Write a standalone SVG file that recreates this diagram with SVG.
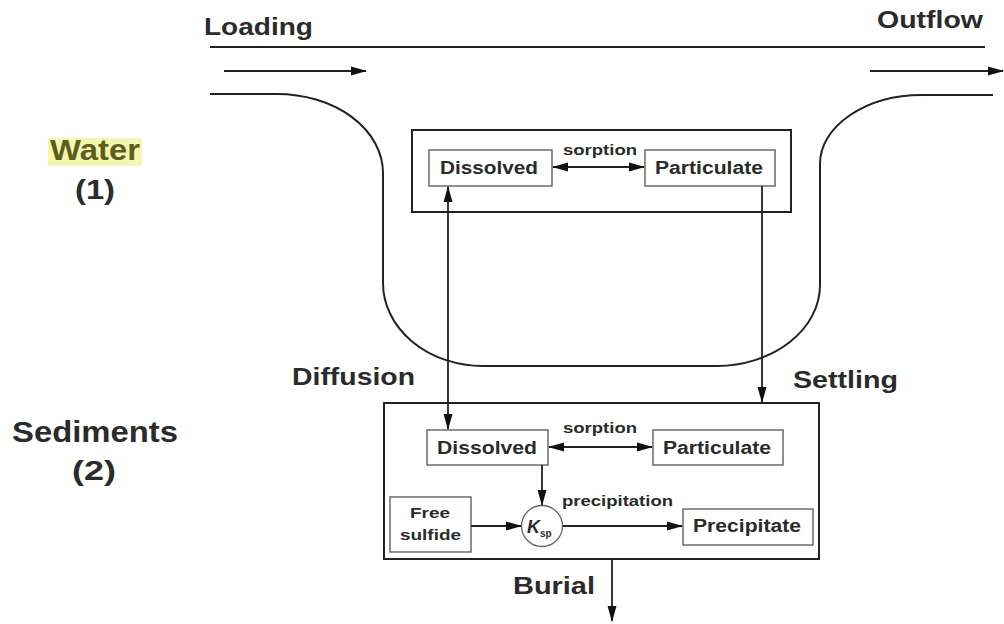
<svg xmlns="http://www.w3.org/2000/svg" width="1004" height="624" viewBox="0 0 1004 624">
  <style>
    .lbl { font-family: "Liberation Sans", Arial, sans-serif; font-weight: bold; fill: #2b2b2b; }
    .big { font-size: 24px; }
    .cmp { font-size: 30px; }
    .box { font-size: 18px; }
    .sm { font-size: 15px; }
    .frame { fill: #fff; stroke: #222; stroke-width: 2; }
    .cell { fill: #fff; stroke: #555; stroke-width: 1.3; }
    .line { fill: none; stroke: #222; stroke-width: 2; }
    .conn { fill: none; stroke: #222; stroke-width: 1.8; }
  </style>
  <defs>
    <marker id="head" markerUnits="userSpaceOnUse" markerWidth="16" markerHeight="10" refX="15" refY="5" orient="auto-start-reverse">
      <path d="M0,0.5 L16,5 L0,9.5 z" fill="#111"/>
    </marker>
  </defs>
  <rect width="1004" height="624" fill="#fff"/>

  <!-- channel: surface line, flow arrows and water body outline -->
  <g id="channel">
    <line class="line" x1="210" y1="47" x2="985" y2="47"/>
    <path class="line" d="M210,94 H277 A106,79 0 0 1 383,173 V283 A100,83 0 0 0 483,366 H717 A104,81 0 0 0 820,285 V164 A102,69 0 0 1 922,95 H993"/>
    <text class="lbl big" x="204" y="35" textLength="109" lengthAdjust="spacingAndGlyphs">Loading</text>
    <text class="lbl big" x="877" y="28" textLength="106" lengthAdjust="spacingAndGlyphs">Outflow</text>
  </g>

  <!-- compartment labels -->
  <g id="water-label">
    <rect x="48" y="138" width="94" height="28" fill="#f2f4a4" opacity="0.85"/>
    <text class="lbl cmp" x="50" y="160" textLength="90" lengthAdjust="spacingAndGlyphs" style="fill:#5e5e1c">Water</text>
    <text class="lbl cmp" x="75" y="199" textLength="40" lengthAdjust="spacingAndGlyphs" style="font-size:27px">(1)</text>
  </g>
  <g id="sediments-label">
    <text class="lbl cmp" x="12" y="442" textLength="166" lengthAdjust="spacingAndGlyphs">Sediments</text>
    <text class="lbl cmp" x="72" y="480" textLength="44" lengthAdjust="spacingAndGlyphs" style="font-size:27px">(2)</text>
  </g>

  <!-- water column compartment -->
  <g id="water-box">
    <rect class="frame" x="412" y="130" width="379" height="82"/>
  </g>
  <g id="water-dissolved">
    <rect class="cell" x="429" y="150" width="123" height="36"/>
    <text class="lbl box" x="440" y="174" textLength="98" lengthAdjust="spacingAndGlyphs">Dissolved</text>
  </g>
  <g id="water-particulate">
    <rect class="cell" x="645" y="150" width="130" height="36"/>
    <text class="lbl box" x="655" y="174" textLength="108" lengthAdjust="spacingAndGlyphs">Particulate</text>
  </g>

  <!-- sediment compartment -->
  <g id="sediment-box">
    <rect class="frame" x="384" y="403" width="435" height="156"/>
  </g>
  <g id="sed-dissolved">
    <rect class="cell" x="427" y="430" width="121" height="35"/>
    <text class="lbl box" x="437" y="454" textLength="100" lengthAdjust="spacingAndGlyphs">Dissolved</text>
  </g>
  <g id="sed-particulate">
    <rect class="cell" x="653" y="430" width="130" height="35"/>
    <text class="lbl box" x="663" y="454" textLength="108" lengthAdjust="spacingAndGlyphs">Particulate</text>
  </g>
  <g id="free-sulfide">
    <rect class="cell" x="390" y="497" width="81" height="55"/>
    <text class="lbl sm" x="410" y="518" textLength="40" lengthAdjust="spacingAndGlyphs">Free</text>
    <text class="lbl sm" x="400" y="540" textLength="61" lengthAdjust="spacingAndGlyphs">sulfide</text>
  </g>
  <g id="ksp">
    <circle cx="542" cy="526" r="20.5" fill="#fff" stroke="#666" stroke-width="1.3"/>
    <text class="lbl" x="527" y="533" style="font-size:18px;font-style:italic">K</text>
    <text class="lbl" x="540" y="537" style="font-size:10px">sp</text>
  </g>
  <g id="precipitate">
    <rect class="cell" x="683" y="509" width="130" height="36"/>
    <text class="lbl box" x="693" y="532" textLength="108" lengthAdjust="spacingAndGlyphs">Precipitate</text>
  </g>

  <!-- process arrows and labels -->
  <g id="connectors">
    <line class="conn" x1="224" y1="71" x2="366" y2="71" marker-end="url(#head)"/>
    <line class="conn" x1="870" y1="71" x2="1003" y2="71" marker-end="url(#head)"/>

    <line class="conn" x1="553" y1="167" x2="644" y2="167" marker-start="url(#head)" marker-end="url(#head)"/>
    <text class="lbl sm" x="563" y="155" textLength="74" lengthAdjust="spacingAndGlyphs">sorption</text>

    <line class="conn" x1="448" y1="187" x2="448" y2="429" marker-start="url(#head)" marker-end="url(#head)"/>
    <text class="lbl big" x="292" y="385" textLength="123" lengthAdjust="spacingAndGlyphs">Diffusion</text>

    <line class="conn" x1="762" y1="186" x2="762" y2="402" marker-end="url(#head)"/>
    <text class="lbl big" x="793" y="388" textLength="105" lengthAdjust="spacingAndGlyphs">Settling</text>

    <line class="conn" x1="549" y1="447" x2="652" y2="447" marker-start="url(#head)" marker-end="url(#head)"/>
    <text class="lbl sm" x="563" y="433" textLength="74" lengthAdjust="spacingAndGlyphs">sorption</text>

    <line class="conn" x1="542" y1="465" x2="542" y2="505" marker-end="url(#head)"/>
    <line class="conn" x1="471" y1="526" x2="521" y2="526" marker-end="url(#head)"/>
    <line class="conn" x1="563" y1="526" x2="682" y2="526" marker-end="url(#head)"/>
    <text class="lbl sm" x="562" y="506" textLength="111" lengthAdjust="spacingAndGlyphs">precipitation</text>

    <line class="conn" x1="612" y1="559" x2="612" y2="621" marker-end="url(#head)"/>
    <text class="lbl big" x="513" y="594" textLength="82" lengthAdjust="spacingAndGlyphs">Burial</text>
  </g>
</svg>
